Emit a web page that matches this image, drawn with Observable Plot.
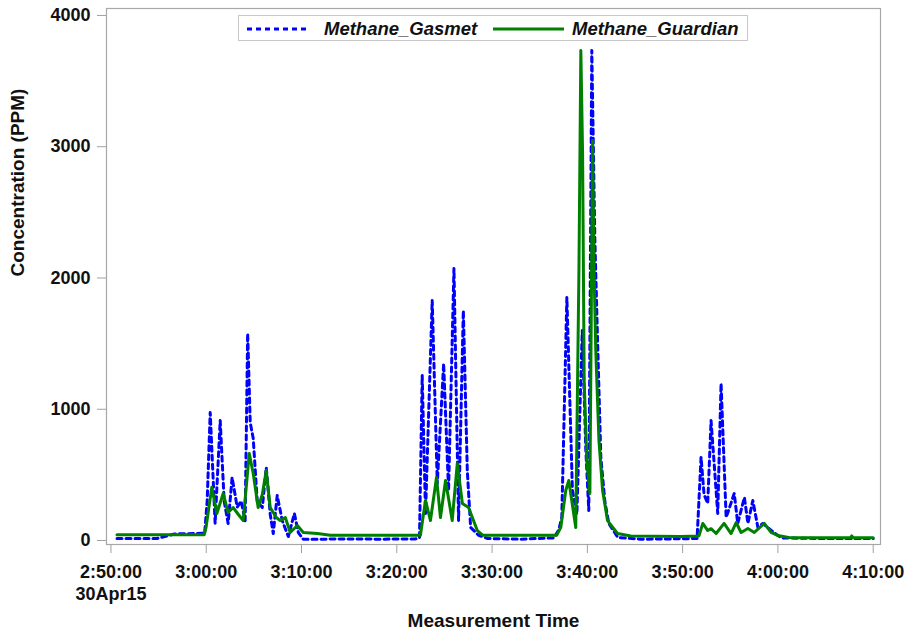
<!DOCTYPE html>
<html>
<head>
<meta charset="utf-8">
<script src="https://cdn.jsdelivr.net/npm/d3@7"></script>
<script src="https://cdn.jsdelivr.net/npm/@observablehq/plot@0.6"></script>
<style>
  html, body { margin: 0; padding: 0; background: white; }
  #wrap { position: relative; width: 912px; height: 632px; font-family: "Liberation Sans", Arial, sans-serif; }
  #legend { position: absolute; left: 238px; top: 15px; width: 510px; height: 26px; border: 1px solid #c8c8c8; background: white; box-sizing: border-box; }
  #legend .lbl { position: absolute; top: 2px; font-size: 18.5px; font-weight: bold; font-style: italic; color: #111; line-height: 22px; white-space: nowrap; }
  #legend svg { position: absolute; top: 0; }
</style>
</head>
<body>
<div id="wrap">
  <div id="chart"></div>
  <div id="legend"></div>
</div>
<script>
// ---- data ----
const seriesNames = ["Methane_Gasmet", "Methane_Guardian"];
const seriesColors = ["#0000ff", "#008000"];

const gasmetTime = ["2:50:38","2:54:50","2:56:40","2:59:50","3:00:06","3:00:25","3:00:56","3:01:28","3:01:53","3:02:18","3:02:43","3:03:15","3:03:40","3:04:05","3:04:21","3:04:37","3:04:56","3:05:21","3:05:53","3:06:18","3:06:43","3:07:02","3:07:27","3:07:59","3:08:37","3:09:15","3:09:40","3:10:11","3:11:59","3:15:08","3:18:17","3:21:58","3:22:23","3:22:40","3:23:01","3:23:43","3:24:15","3:24:55","3:25:26","3:26:00","3:26:29","3:26:59","3:27:24","3:27:45","3:28:35","3:29:32","3:33:01","3:36:29","3:37:00","3:37:19","3:37:51","3:38:26","3:38:54","3:39:28","3:39:50","3:40:09","3:40:28","3:40:47","3:41:06","3:41:25","3:41:50","3:42:15","3:43:12","3:45:38","3:48:47","3:51:31","3:51:56","3:52:15","3:52:38","3:52:59","3:53:41","3:54:02","3:54:34","3:55:25","3:55:47","3:56:29","3:56:51","3:57:22","3:57:54","3:58:25","3:59:18","4:00:21","4:04:33","4:10:00"];
const gasmetValue = [15,15,50,55,300,975,130,914,300,130,480,254,300,150,1577,900,777,300,250,556,200,53,343,150,30,206,60,10,10,12,10,12,20,1257,206,1829,434,1348,381,2072,152,1752,533,99,40,15,10,20,80,175,1851,381,200,1600,700,228,3733,2300,1450,632,300,130,23,10,12,15,635,350,282,914,206,1196,175,358,130,328,130,305,99,130,76,20,15,15];

const guardianTime = ["2:50:38","2:55:09","2:59:47","2:59:59","3:00:35","3:01:07","3:01:47","3:02:18","3:02:50","3:03:21","3:03:53","3:04:31","3:04:56","3:05:27","3:05:53","3:06:18","3:06:43","3:07:21","3:07:46","3:08:18","3:08:49","3:09:34","3:10:11","3:11:40","3:13:02","3:18:17","3:22:29","3:22:42","3:23:01","3:23:32","3:24:10","3:24:35","3:25:07","3:25:49","3:26:21","3:26:53","3:27:32","3:28:27","3:29:01","3:33:01","3:36:47","3:37:13","3:37:44","3:38:03","3:38:47","3:39:07","3:39:19","3:39:30","3:39:40","3:39:57","3:40:16","3:40:33","3:40:41","3:40:53","3:41:13","3:41:36","3:42:07","3:43:10","3:44:34","3:49:50","3:51:43","3:52:07","3:52:38","3:52:59","3:53:31","3:54:21","3:55:05","3:55:37","3:56:08","3:56:51","3:57:31","3:58:34","3:59:18","4:00:00","4:01:24","4:07:35","4:07:45","4:07:55","4:10:00"];
const guardianValue = [43,43,43,100,406,206,358,213,251,200,152,663,510,251,350,533,251,175,152,175,61,114,61,53,40,40,40,150,305,152,480,175,457,152,587,282,251,76,40,40,40,100,381,457,99,2057,3733,2950,1219,600,358,3048,2133,1448,762,381,152,53,35,30,35,130,76,90,53,130,53,137,61,91,61,130,61,38,20,20,35,20,20];

const xTickLabels = ["2:50:00","3:00:00","3:10:00","3:20:00","3:30:00","3:40:00","3:50:00","4:00:00","4:10:00"];
const yTicks = [0, 1000, 2000, 3000, 4000];
const dateLabel = "30Apr15";
const xDomainLabels = ["2:49:32", "4:10:46"];
const yDomain = [-30.5, 4053];
const xTitle = "Measurement Time";
const yTitle = "Concentration (PPM)";

// ---- build ----
function toDate(s) {
  const [h, m, sec] = s.split(":").map(Number);
  return new Date(2015, 3, 30, h, m, sec);
}
const gasmet = gasmetTime.map((t, i) => ({time: toDate(t), value: gasmetValue[i]}));
const guardian = guardianTime.map((t, i) => ({time: toDate(t), value: guardianValue[i]}));
const xTicks = xTickLabels.map(toDate);
const fmt = d3.timeFormat("%-H:%M:%S");

const chart = Plot.plot({
  width: 912,
  height: 632,
  marginLeft: 106,
  marginRight: 32,
  marginTop: 8,
  marginBottom: 88,
  style: {fontFamily: "'Liberation Sans', Arial, sans-serif", fontSize: "18px", fontWeight: "bold", color: "black", background: "white"},
  x: {type: "time", domain: xDomainLabels.map(toDate)},
  y: {domain: yDomain},
  marks: [
    Plot.frame({stroke: "#a8a8a8", strokeWidth: 1.2}),
    Plot.axisX({ticks: xTicks, tickSize: 9, tickPadding: 9, stroke: "#a0a0a0", fill: "#111", label: null, lineHeight: 1.22,
      tickFormat: (d, i) => i === 0 ? fmt(d) + "\n" + dateLabel : fmt(d)}),
    Plot.axisY({ticks: yTicks, tickSize: 9, tickPadding: 7, stroke: "#a0a0a0", fill: "#111", label: null, tickFormat: d3.format("d")}),
    Plot.line(gasmet, {x: "time", y: "value", stroke: seriesColors[0], strokeWidth: 3, strokeDasharray: "5,4", strokeLinejoin: "round"}),
    Plot.line(guardian, {x: "time", y: "value", stroke: seriesColors[1], strokeWidth: 3, strokeLinejoin: "round"}),
    Plot.text([xTitle], {text: d => d, frameAnchor: "bottom", lineAnchor: "top", dy: 69, fontSize: 19, fontWeight: "bold", fill: "#111"}),
    Plot.text([yTitle], {text: d => d, frameAnchor: "left", lineAnchor: "top", rotate: -90, dx: -96, fontSize: 19, fontWeight: "bold", fill: "#111"})
  ]
});
document.getElementById("chart").appendChild(chart);

// ---- legend (HTML overlay inside the plot frame) ----
const legend = document.getElementById("legend");
const items = [
  {sample: [8, 71], text: 85, dash: "5,4"},
  {sample: [254, 325], text: 333, dash: null}
];
items.forEach((it, i) => {
  const ns = "http://www.w3.org/2000/svg";
  const svg = document.createElementNS(ns, "svg");
  svg.setAttribute("width", 510); svg.setAttribute("height", 24);
  svg.style.left = "0px";
  const ln = document.createElementNS(ns, "line");
  ln.setAttribute("x1", it.sample[0]); ln.setAttribute("x2", it.sample[1]);
  ln.setAttribute("y1", 13); ln.setAttribute("y2", 13);
  ln.setAttribute("stroke", seriesColors[i]); ln.setAttribute("stroke-width", 3);
  if (it.dash) ln.setAttribute("stroke-dasharray", it.dash);
  svg.appendChild(ln);
  legend.appendChild(svg);
  const lab = document.createElement("div");
  lab.className = "lbl";
  lab.style.left = it.text + "px";
  lab.textContent = seriesNames[i];
  legend.appendChild(lab);
});
</script>
</body>
</html>
